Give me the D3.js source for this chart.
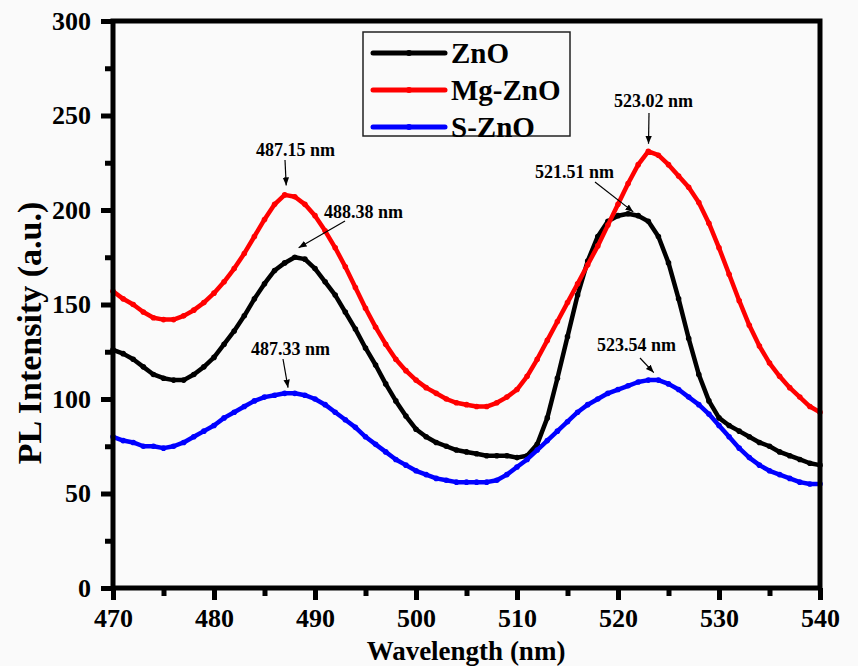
<!DOCTYPE html>
<html>
<head>
<meta charset="utf-8">
<script src="https://cdn.jsdelivr.net/npm/d3@7"></script>
<style>
  body { margin: 0; background: #fafafa; }
  svg { display: block; }
  text { font-family: "Liberation Serif", "Times New Roman", serif; font-weight: bold; fill: #000; }
</style>
</head>
<body>
<svg id="chart" width="858" height="666"></svg>
<script>
// wavelength, 1 nm steps
var wavelengths = d3.range(470, 541);

var zno = [126,124,121,117,113,111,110,110,113,117,
  122,129,136,144,153,161,168,172,175,174,
  169,162,155,146,137,127,118,108,99,91,
  84,80,77,75,73,72,71,70,70,70,
  69,70,76,90,111,133,155,173,186,194,
  197,198,197,194,186,172,153,132,113,99,
  90,86,83,80,77,75,72,70,68,66,65];

var mgZno = [157,153,150,146,143,142,142,144,147,151,
  156,162,169,177,186,195,203,208,207,203,
  197,189,180,170,159,148,138,129,121,115,
  110,106,103,100,98,97,96,96,98,101,
  105,112,121,131,141,151,161,171,181,192,
  203,214,224,231,229,224,218,212,204,193,
  180,166,152,139,128,119,112,106,101,96,93];

var sZno = [80,78,77,75,75,74,75,77,80,83,
  86,90,93,96,99,101,102,103,103,102,
  100,97,93,89,85,80,76,72,68,65,
  62,60,58,57,56,56,56,56,57,60,
  64,68,73,78,83,88,93,97,100,103,
  105,107,109,110,110,108,105,101,97,92,
  86,80,74,69,65,62,60,58,56,55,55];

var seriesNames = ["ZnO", "Mg-ZnO", "S-ZnO"];
var seriesColors = ["#000000", "#ff0000", "#0000ff"];

var xTicks = [470, 480, 490, 500, 510, 520, 530, 540];
var yTicks = [0, 50, 100, 150, 200, 250, 300];

// peak labels
var peakLabels = ["487.15 nm", "488.38 nm", "487.33 nm", "521.51 nm", "523.02 nm", "523.54 nm"];
var peakX = [487.15, 488.38, 487.33, 521.51, 523.02, 523.54];
var peakY = [213, 180, 106, 199, 235, 114];

var svg = d3.select("#chart");
var plotL = 113, plotR = 820, plotT = 21, plotB = 588;

var x = d3.scaleLinear().domain([470, 540]).range([plotL, plotR]);
var y = d3.scaleLinear().domain([0, 300]).range([plotB, plotT]);

// where the label text sits and where the arrow starts (pixels)
var labelPos = [[256, 156, 285, 160], [324, 218, 345, 221], [251, 355, 283, 359],
                [535, 178, 595, 182], [614, 107, 649, 113], [597, 351, 640, 358]];

svg.append("defs").append("marker")
  .attr("id", "arr").attr("viewBox", "0 0 10 10")
  .attr("refX", 10).attr("refY", 5)
  .attr("markerWidth", 8).attr("markerHeight", 8)
  .attr("markerUnits", "userSpaceOnUse")
  .attr("orient", "auto")
  .append("path").attr("d", "M0,1 L10,5 L0,9 Z").attr("fill", "#000");

// lines
var line = d3.line().x(function(d) { return x(d[0]); }).y(function(d) { return y(d[1]); });
[zno, mgZno, sZno].forEach(function(vals, i) {
  var pts = wavelengths.map(function(w, j) { return [w, vals[j]]; });
  var g = svg.append("g");
  g.append("path").datum(pts)
    .attr("d", line)
    .attr("fill", "none")
    .attr("stroke", seriesColors[i])
    .attr("stroke-width", 4.5)
    .attr("stroke-linejoin", "round");
  g.selectAll("circle").data(pts).enter().append("circle")
    .attr("cx", function(d) { return x(d[0]); })
    .attr("cy", function(d) { return y(d[1]); })
    .attr("r", 2.8)
    .attr("fill", seriesColors[i]);
});

// frame + axes
var xAxis = d3.axisBottom(x).tickValues(xTicks).tickSize(12).tickPadding(9);
var yAxis = d3.axisLeft(y).tickValues(yTicks).tickSize(12).tickPadding(10);
var xMinor = d3.axisBottom(x).tickValues(d3.range(475, 540, 10)).tickSize(8).tickFormat("");
var yMinor = d3.axisLeft(y).tickValues(d3.range(25, 300, 50)).tickSize(8).tickFormat("");

function styleAxis(g) {
  g.select(".domain").remove();
  g.selectAll("line").attr("stroke", "#000").attr("stroke-width", 5);
  g.selectAll("text").style("font-size", "26px").attr("fill", "#000");
}
svg.append("g").attr("transform", "translate(0," + plotB + ")").call(xAxis).call(styleAxis);
svg.append("g").attr("transform", "translate(0," + plotB + ")").call(xMinor).call(styleAxis);
svg.append("g").attr("transform", "translate(" + plotL + ",0)").call(yAxis).call(styleAxis);
svg.append("g").attr("transform", "translate(" + plotL + ",0)").call(yMinor).call(styleAxis);

svg.append("rect")
  .attr("x", plotL).attr("y", plotT)
  .attr("width", plotR - plotL).attr("height", plotB - plotT)
  .attr("fill", "none").attr("stroke", "#000").attr("stroke-width", 5);

// axis titles
svg.append("text").attr("x", 466).attr("y", 660)
  .attr("text-anchor", "middle").style("font-size", "27px")
  .text("Wavelength (nm)");
svg.append("text").attr("transform", "translate(41,333) rotate(-90)")
  .attr("text-anchor", "middle").style("font-size", "34px")
  .text("PL Intensity (a.u.)");

// legend
var leg = svg.append("g");
leg.append("rect").attr("x", 363).attr("y", 32).attr("width", 207).attr("height", 104)
  .attr("fill", "#fafafa").attr("stroke", "#222").attr("stroke-width", 1.5);
seriesNames.forEach(function(name, i) {
  var yy = 53 + i * 37;
  leg.append("line").attr("x1", 373).attr("x2", 445).attr("y1", yy).attr("y2", yy)
    .attr("stroke", seriesColors[i]).attr("stroke-width", 5).attr("stroke-linecap", "round");
  leg.append("circle").attr("cx", 409).attr("cy", yy).attr("r", 3).attr("fill", seriesColors[i]);
  leg.append("text").attr("x", 451).attr("y", yy + 10).style("font-size", "29px").text(name);
});

// peak annotations
peakLabels.forEach(function(lbl, i) {
  var p = labelPos[i];
  svg.append("text").attr("x", p[0]).attr("y", p[1]).style("font-size", "18px").text(lbl);
  svg.append("line")
    .attr("x1", p[2]).attr("y1", p[3])
    .attr("x2", x(peakX[i])).attr("y2", y(peakY[i]))
    .attr("stroke", "#000").attr("stroke-width", 1.2)
    .attr("marker-end", "url(#arr)");
});
</script>
</body>
</html>
